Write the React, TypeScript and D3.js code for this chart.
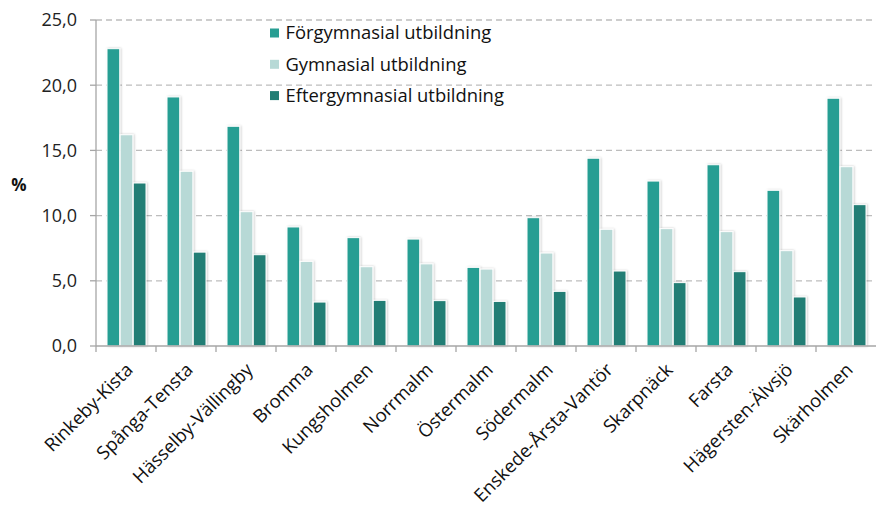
import React from 'react';
import * as d3 from 'd3';

const districts = [
  'Rinkeby-Kista', 'Spånga-Tensta', 'Hässelby-Vällingby', 'Bromma', 'Kungsholmen',
  'Norrmalm', 'Östermalm', 'Södermalm', 'Enskede-Årsta-Vantör', 'Skarpnäck',
  'Farsta', 'Hägersten-Älvsjö', 'Skärholmen',
];
const seriesNames = ['Förgymnasial utbildning', 'Gymnasial utbildning', 'Eftergymnasial utbildning'];
const forgymnasial = [22.8, 19.1, 16.85, 9.13, 8.31, 8.2, 6.03, 9.84, 14.4, 12.65, 13.9, 11.94, 19.0];
const gymnasial = [16.2, 13.4, 10.3, 6.49, 6.08, 6.3, 5.9, 7.13, 8.95, 9.0, 8.77, 7.31, 13.75];
const eftergymnasial = [12.5, 7.2, 7.0, 3.37, 3.5, 3.48, 3.42, 4.19, 5.75, 4.86, 5.7, 3.76, 10.84];
const yTicks = [0, 5, 10, 15, 20, 25];
const colors = ['#289E93', '#B7D9D6', '#217E74'];

const W = 878;
const H = 506;
const margin = { left: 96, right: 2, top: 20, bottom: 160 };

export default function App() {
  const series = [forgymnasial, gymnasial, eftergymnasial];
  const x = d3.scaleBand<string>().domain(districts).range([margin.left, W - margin.right]).paddingInner(0).paddingOuter(0);
  const inner = d3.scaleBand<number>().domain([0, 1, 2]).range([11, x.bandwidth() - 10]).paddingInner(0.03);
  const y = d3.scaleLinear().domain([0, 25]).range([H - margin.bottom, margin.top]);
  const fmt = (v: number) => d3.format('.1f')(v).replace('.', ',');
  const font = '"Open Sans", sans-serif';

  return (
    <svg width={W} height={H} style={{ position: 'absolute', left: 0, top: 0, background: '#fff' }} fontFamily={font}>
      <defs>
        <filter id="sh" x="-30%" y="-5%" width="170%" height="115%">
          <feDropShadow dx="1" dy="0" stdDeviation="1.2" floodColor="#000" floodOpacity="0.22" />
        </filter>
      </defs>
      {/* gridlines */}
      {yTicks.filter((t) => t > 0).map((t) => (
        <line key={t} x1={margin.left} x2={W - margin.right} y1={y(t)} y2={y(t)}
          stroke="#BDBDBD" strokeWidth={1.3} strokeDasharray="6,4" />
      ))}
      {/* bars */}
      {districts.map((d, i) => (
        <g key={d} transform={`translate(${x(d)},0)`}>
          {series.map((s, k) => (
            <rect key={k} x={inner(k)} y={y(s[i])} width={inner.bandwidth()} height={y(0) - y(s[i])}
              fill={colors[k]} stroke="#fff" strokeWidth={1} filter="url(#sh)" />
          ))}
        </g>
      ))}
      {/* axes */}
      <line x1={margin.left} x2={margin.left} y1={margin.top} y2={y(0)} stroke="#A6A6A6" strokeWidth={1.3} />
      <line x1={margin.left} x2={W - margin.right} y1={y(0)} y2={y(0)} stroke="#A6A6A6" strokeWidth={1.3} />
      {yTicks.map((t) => (
        <g key={t}>
          <line x1={margin.left - 6} x2={margin.left} y1={y(t)} y2={y(t)} stroke="#A6A6A6" strokeWidth={1.3} />
          <text x={margin.left - 19} y={y(t)} dy="0.36em" textAnchor="end" fontSize={18} fill="#222">{fmt(t)}</text>
        </g>
      ))}
      {districts.map((d) => (
        <line key={d} x1={x(d)!} x2={x(d)!} y1={y(0)} y2={y(0) + 6} stroke="#A6A6A6" strokeWidth={1.3} />
      ))}
      {districts.map((d) => {
        const cx = x(d)! + x.bandwidth() / 2 + 8;
        const cy = y(0) + 25;
        return (
          <text key={d} transform={`translate(${cx},${cy}) rotate(-45)`} textAnchor="end"
            fontSize={18.5} fill="#111">{d}</text>
        );
      })}
      <text x={19} y={185} textAnchor="middle" dy="0.35em" fontSize={17} fontWeight="bold" fill="#111">%</text>
      {/* legend */}
      {seriesNames.map((n, k) => (
        <g key={n} transform={`translate(270,${33 + k * 31.3})`}>
          <rect x={0} y={-4.5} width={9} height={9} fill={colors[k]} />
          <text x={15.5} y={0} dy="0.35em" fontSize={18.4} fill="#111">{n}</text>
        </g>
      ))}
    </svg>
  );
}
